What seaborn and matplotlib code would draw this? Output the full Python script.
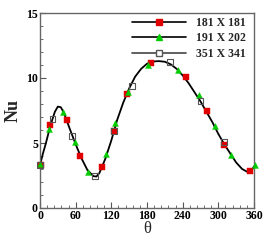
import numpy as np
import pandas as pd
import seaborn as sns
import matplotlib
matplotlib.use('Agg')
import matplotlib.pyplot as plt
from matplotlib.lines import Line2D
from matplotlib.ticker import MultipleLocator

# smooth curve
curve_theta = [0, 5, 10, 15, 20, 25, 30, 35, 40, 50, 60, 70, 80, 90, 95, 100, 110, 120,
               130, 140, 150, 160, 170, 180, 190, 200, 210, 220, 230, 240, 250, 260,
               270, 280, 290, 300, 310, 320, 330, 340, 350, 355, 360]
curve_nu = [3.3, 4.2, 5.0, 5.9, 6.7, 7.4, 7.8, 7.75, 7.35, 6.1, 4.9, 3.8, 2.9, 2.45, 2.42,
            2.7, 3.8, 5.2, 6.8, 8.1, 9.2, 10.1, 10.7, 11.1, 11.27, 11.3, 11.25, 11.05,
            10.7, 10.2, 9.6, 8.9, 8.2, 7.4, 6.6, 5.7, 4.9, 4.2, 3.5, 3.0, 2.75, 2.8, 3.2]

# markers of each grid
theta_181 = [1, 16, 46, 67.5, 105, 124, 146, 186, 245, 281, 309, 354]
nu_181 = [3.28, 6.41, 6.79, 4.03, 3.13, 5.95, 8.79, 11.15, 10.05, 7.5, 4.87, 2.87]

theta_191 = [0, 14.6, 38, 59, 81.5, 111, 126.5, 148, 181, 232, 267, 294, 320.6, 361]
nu_191 = [3.38, 6.08, 7.36, 5.05, 2.74, 4.15, 6.51, 8.95, 11.0, 10.64, 8.67, 6.33, 4.1, 3.33]

theta_351 = [0, 21, 54, 93, 124, 155, 218, 270, 309]
nu_351 = [3.28, 6.87, 5.51, 2.49, 5.95, 9.36, 11.2, 8.26, 5.05]

labels = ['181 X 181', '191 X 202', '351 X 341']

sns.set_style('ticks')
plt.rcParams['font.family'] = ['Liberation Serif', 'DejaVu Serif']

fig = plt.figure(figsize=(2.69, 2.40), dpi=100)
ax = fig.add_axes([40 / 269, 32 / 240, 214 / 269, 195 / 240])

sns.lineplot(x=curve_theta, y=curve_nu, ax=ax, color='black', lw=1.3, zorder=2)
sns.scatterplot(x=theta_181, y=nu_181, ax=ax, marker='s', s=15, color='#e00000',
                edgecolor='#e00000', linewidth=0.3, zorder=3, clip_on=False)
sns.scatterplot(x=theta_191, y=nu_191, ax=ax, marker='^', s=18, color='#00cc00',
                edgecolor='#00cc00', linewidth=0.3, zorder=3, clip_on=False)
sns.scatterplot(x=theta_351, y=nu_351, ax=ax, marker='s', s=18, facecolor='none',
                edgecolor='#555555', linewidth=0.8, zorder=4, clip_on=False)

ax.set_xlim(0, 360)
ax.set_ylim(0, 15)
ax.xaxis.set_major_locator(MultipleLocator(60))
ax.xaxis.set_minor_locator(MultipleLocator(12))
ax.yaxis.set_major_locator(MultipleLocator(5))
ax.yaxis.set_minor_locator(MultipleLocator(1))
ax.tick_params(which='both', direction='in', colors='#555555', labelcolor='black',
               labelsize=8.5, pad=1.5)
ax.tick_params(which='major', length=4, width=0.8)
ax.tick_params(which='minor', length=2, width=0.6)
for lab in ax.get_xticklabels() + ax.get_yticklabels():
    lab.set_fontweight('bold')
for sp in ax.spines.values():
    sp.set_visible(True)
    sp.set_color('#666666')
    sp.set_linewidth(1.0)

ax.set_xlabel('θ', fontsize=12, labelpad=-1)
ax.set_ylabel('Nu', fontsize=13, fontweight='bold', labelpad=3)

handles = [
    Line2D([], [], color='black', lw=1.2, marker='s', ms=4, mfc='#e00000', mec='#e00000'),
    Line2D([], [], color='black', lw=1.2, marker='^', ms=4.5, mfc='#00cc00', mec='#00cc00'),
    Line2D([], [], color='#444444', lw=1.2, marker='s', ms=4, mfc='white', mec='#555555'),
]
ax.legend(handles, labels, loc='upper right', bbox_to_anchor=(0.967, 0.985), frameon=False,
          handlelength=4.6, handletextpad=0.8, labelspacing=0.28, borderaxespad=0,
          borderpad=0.1,
          prop={'family': 'Liberation Serif', 'weight': 'bold', 'size': 8.5})

plt.savefig('out.png', dpi=100)
